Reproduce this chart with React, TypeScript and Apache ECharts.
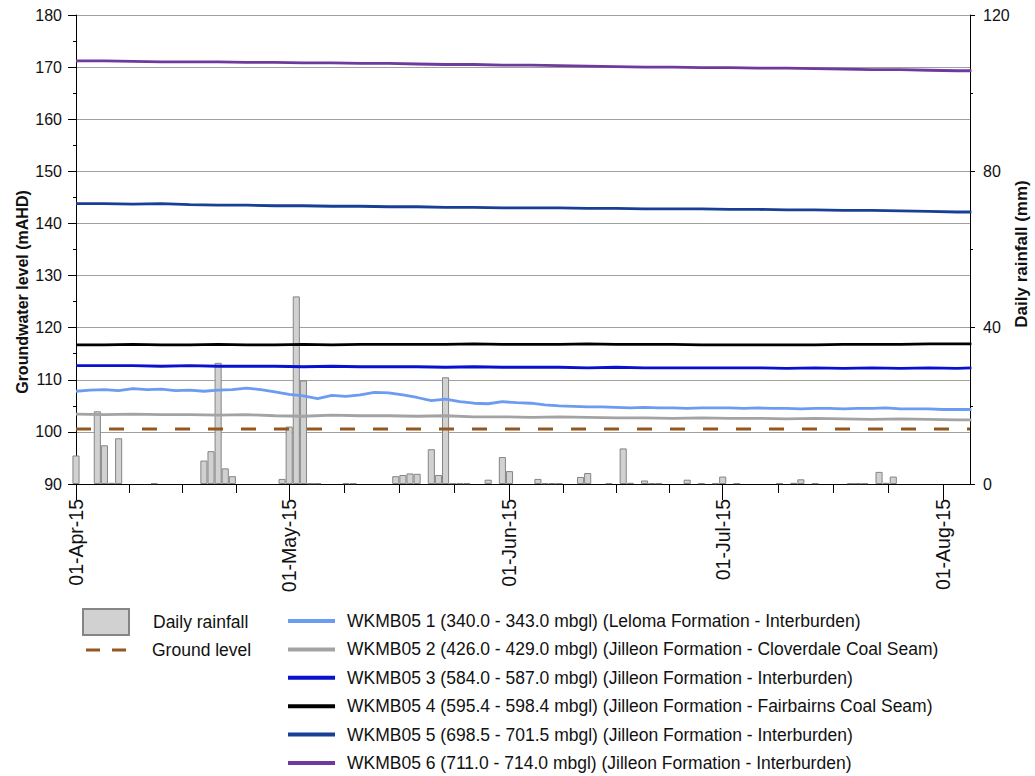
import React, { useEffect, useRef } from 'react';
import * as echarts from 'echarts';

const FONT = '"Liberation Sans", Arial, Helvetica, sans-serif';

// x values are days since 01-Apr-15
const xMin = 0;
const xMax = 125.8;
const monthTickDays = [0, 30, 61, 91, 122];
const monthTickLabels = ['01-Apr-15', '01-May-15', '01-Jun-15', '01-Jul-15', '01-Aug-15'];
const minorTickDays = [0, 7.5, 15, 22.5, 30, 37.75, 45.5, 53.25, 61, 68.5, 76, 83.5, 91, 98.75, 106.5, 114.25, 122];

// Daily rainfall (mm)
const rainDays = [0, 3, 4, 5, 6, 11, 18, 19, 20, 21, 22, 29, 30, 31, 32, 33, 34, 38, 39, 45, 46, 47, 48, 50, 51, 52, 53, 54, 55, 58, 60, 61, 65, 66, 67, 68, 71, 72, 75, 77, 78, 80, 81, 82, 86, 88, 90, 91, 93, 99, 101, 102, 104, 109, 110, 111, 113, 114, 115];
const rainMm = [7.3, 18.6, 9.9, 0.3, 11.7, 0.2, 6.0, 8.4, 31.0, 4.0, 2.0, 1.3, 14.7, 48.0, 26.5, 0.2, 0.2, 0.2, 0.2, 2.0, 2.3, 2.7, 2.6, 8.9, 2.3, 27.3, 0.2, 0.2, 0.2, 1.1, 6.9, 3.3, 1.3, 0.2, 0.2, 0.2, 1.8, 2.8, 0.2, 9.1, 0.3, 0.9, 0.2, 0.2, 1.1, 0.2, 0.2, 1.9, 0.2, 0.2, 0.3, 1.2, 0.2, 0.2, 0.2, 0.2, 3.1, 0.3, 1.9];

// Groundwater levels (mAHD)
const days2 = [0, 2, 4, 6, 8, 10, 12, 14, 16, 18, 20, 22, 24, 26, 28, 30, 32, 34, 36, 38, 40, 42, 44, 46, 48, 50, 52, 54, 56, 58, 60, 62, 64, 66, 68, 70, 72, 74, 76, 78, 80, 82, 84, 86, 88, 90, 92, 94, 96, 98, 100, 102, 104, 106, 108, 110, 112, 114, 116, 118, 120, 122, 124, 126];
const well1 = [107.8, 108.0, 108.1, 107.9, 108.3, 108.1, 108.2, 107.9, 108.0, 107.8, 108.0, 108.1, 108.4, 108.1, 107.7, 107.2, 106.9, 106.4, 107.0, 106.8, 107.1, 107.6, 107.5, 107.1, 106.6, 106.0, 106.3, 105.8, 105.5, 105.4, 105.8, 105.6, 105.5, 105.2, 105.0, 104.9, 104.8, 104.8, 104.7, 104.6, 104.7, 104.6, 104.6, 104.5, 104.6, 104.6, 104.6, 104.5, 104.6, 104.5, 104.5, 104.4, 104.5, 104.5, 104.4, 104.5, 104.5, 104.6, 104.4, 104.4, 104.4, 104.3, 104.3, 104.3];

const days4 = [0, 4, 8, 12, 16, 20, 24, 28, 32, 36, 40, 44, 48, 52, 56, 60, 64, 68, 72, 76, 80, 84, 88, 92, 96, 100, 104, 108, 112, 116, 120, 124, 126];
const well2 = [103.4, 103.3, 103.4, 103.3, 103.3, 103.2, 103.3, 103.1, 103.0, 103.2, 103.1, 103.1, 103.0, 103.1, 102.9, 102.9, 102.8, 102.9, 102.8, 102.7, 102.7, 102.6, 102.7, 102.6, 102.6, 102.5, 102.6, 102.5, 102.4, 102.5, 102.4, 102.3, 102.3];
const well3 = [112.7, 112.7, 112.7, 112.6, 112.7, 112.6, 112.6, 112.6, 112.5, 112.6, 112.5, 112.5, 112.5, 112.4, 112.5, 112.4, 112.4, 112.4, 112.3, 112.4, 112.3, 112.3, 112.3, 112.3, 112.3, 112.2, 112.3, 112.2, 112.3, 112.2, 112.3, 112.2, 112.3];
const well4 = [116.7, 116.7, 116.8, 116.7, 116.7, 116.8, 116.7, 116.7, 116.8, 116.7, 116.8, 116.8, 116.8, 116.8, 116.9, 116.8, 116.8, 116.8, 116.9, 116.8, 116.8, 116.8, 116.7, 116.7, 116.7, 116.7, 116.7, 116.8, 116.8, 116.8, 116.9, 116.9, 116.9];
const well5 = [143.8, 143.8, 143.7, 143.8, 143.6, 143.5, 143.5, 143.4, 143.4, 143.3, 143.3, 143.2, 143.2, 143.1, 143.1, 143.0, 143.0, 143.0, 142.9, 142.9, 142.8, 142.8, 142.8, 142.7, 142.7, 142.6, 142.6, 142.5, 142.5, 142.4, 142.3, 142.2, 142.2];
const well6 = [171.2, 171.2, 171.1, 171.0, 171.0, 171.0, 170.9, 170.9, 170.8, 170.8, 170.7, 170.7, 170.6, 170.5, 170.5, 170.4, 170.4, 170.3, 170.2, 170.1, 170.0, 170.0, 169.9, 169.9, 169.8, 169.8, 169.7, 169.6, 169.5, 169.5, 169.4, 169.3, 169.3];

const groundDays = [0, 125.8];
const groundLevel = [100.55, 100.55];

const leftTitle = 'Groundwater level (mAHD)';
const rightTitle = 'Daily rainfall (mm)';
const wellNames = [
  'WKMB05 1 (340.0 - 343.0 mbgl) (Leloma Formation - Interburden)',
  'WKMB05 2 (426.0 - 429.0 mbgl) (Jilleon Formation - Cloverdale Coal Seam)',
  'WKMB05 3 (584.0 - 587.0 mbgl) (Jilleon Formation - Interburden)',
  'WKMB05 4 (595.4 - 598.4 mbgl) (Jilleon Formation - Fairbairns Coal Seam)',
  'WKMB05 5 (698.5 - 701.5 mbgl) (Jilleon Formation - Interburden)',
  'WKMB05 6 (711.0 - 714.0 mbgl) (Jilleon Formation - Interburden)',
];
const wellColors = ['#6b9cf2', '#a3a3a3', '#0a10cf', '#000000', '#173f96', '#6f3a9e'];
const wellDays = [days2, days4, days4, days4, days4, days4];
const wellValues = [well1, well2, well3, well4, well5, well6];

const zip = (xs: number[], ys: number[]) => xs.map((x, i) => [x, ys[i]]);

export default function App() {
  const ref = useRef<HTMLDivElement>(null);
  useEffect(() => {
    if (!ref.current) return;
    const chart = echarts.init(ref.current, undefined, { renderer: 'svg' });
    const textColor = '#111';
    const legendText = { fontSize: 17.5, color: textColor, fontFamily: FONT, lineHeight: 20 };
    const wellSeries = wellNames.map((name, i) => ({
      name,
      type: 'line',
      xAxisIndex: 0,
      yAxisIndex: 0,
      data: zip(wellDays[i], wellValues[i]),
      symbol: 'none',
      showSymbol: false,
      lineStyle: { color: wellColors[i], width: 2.8 },
      itemStyle: { color: wellColors[i] },
      z: 3,
    }));
    chart.setOption({
      animation: false,
      backgroundColor: '#fff',
      textStyle: { fontFamily: FONT },
      grid: { left: 76, right: 65, top: 15, bottom: 292, containLabel: false, outerBoundsMode: 'none' },
      graphic: [
        {
          type: 'text',
          x: 22,
          y: 292,
          rotation: Math.PI / 2,
          style: { text: leftTitle, font: `bold 16px ${FONT}`, fill: textColor, align: 'center', verticalAlign: 'middle' },
        },
        {
          type: 'text',
          x: 1021,
          y: 254,
          rotation: Math.PI / 2,
          style: { text: rightTitle, font: `bold 17px ${FONT}`, fill: textColor, align: 'center', verticalAlign: 'middle' },
        },
      ],
      xAxis: [
        {
          type: 'value',
          min: xMin,
          max: xMax,
          position: 'bottom',
          axisLine: { show: true, onZero: false, lineStyle: { color: '#000', width: 1 } },
          axisTick: { show: true, customValues: monthTickDays, length: 16, lineStyle: { color: '#000' } },
          axisLabel: {
            customValues: monthTickDays,
            rotate: 90,
            margin: 15,
            fontSize: 19.5,
            color: textColor,
            fontFamily: FONT,
            formatter: (v: number) => {
              const idx = monthTickDays.indexOf(Math.round(v));
              return idx >= 0 ? monthTickLabels[idx] : '';
            },
          },
          splitLine: { show: false },
        },
        {
          type: 'value',
          min: xMin,
          max: xMax,
          position: 'bottom',
          axisLine: { show: false, onZero: false },
          axisTick: { show: true, customValues: minorTickDays, length: 9, lineStyle: { color: '#000' } },
          axisLabel: { show: false },
          splitLine: { show: false },
        },
      ],
      yAxis: [
        {
          type: 'value',
          min: 90,
          max: 180,
          interval: 10,
          position: 'left',
          axisLine: { show: true, onZero: false, lineStyle: { color: '#000', width: 1 } },
          axisTick: { show: true, length: 8, lineStyle: { color: '#000' } },
          minorTick: { show: true, splitNumber: 2, length: 3, lineStyle: { color: '#000' } },
          axisLabel: { fontSize: 16, margin: 14, color: textColor, fontFamily: FONT },
          splitLine: { show: true, lineStyle: { color: '#a0a0a0', width: 1 } },
        },
        {
          type: 'value',
          min: 0,
          max: 120,
          interval: 40,
          position: 'right',
          axisLine: { show: true, onZero: false, lineStyle: { color: '#000', width: 1 } },
          axisTick: { show: true, length: 5, lineStyle: { color: '#000' } },
          minorTick: { show: true, splitNumber: 2, length: 3, lineStyle: { color: '#000' } },
          axisLabel: { fontSize: 16, margin: 13, color: textColor, fontFamily: FONT },
          splitLine: { show: false },
        },
      ],
      legend: [
        {
          data: [{ name: 'Daily rainfall', icon: 'rect' }],
          left: 82,
          top: 608,
          padding: 0,
          orient: 'vertical',
          itemWidth: 46,
          itemHeight: 26,
          selectedMode: false,
          textStyle: { ...legendText, padding: [0, 0, 0, 19] },
        },
        {
          data: [{ name: 'Ground level', icon: 'path://M0,0h14v3h-14zM26,0h14v3h-14z' }],
          left: 86,
          top: 640,
          padding: 0,
          orient: 'vertical',
          itemWidth: 40,
          itemHeight: 3,
          selectedMode: false,
          textStyle: { ...legendText, padding: [0, 0, 0, 21] },
        },
        {
          data: wellNames.map((n) => ({ name: n, icon: 'rect' })),
          left: 288,
          top: 611,
          padding: 0,
          height: 170,
          orient: 'vertical',
          itemWidth: 47,
          itemHeight: 4,
          itemGap: 8.4,
          selectedMode: false,
          textStyle: { ...legendText, padding: [0, 0, 0, 7] },
        },
      ],
      series: [
        {
          name: 'Daily rainfall',
          type: 'bar',
          xAxisIndex: 0,
          yAxisIndex: 1,
          data: zip(rainDays, rainMm),
          barWidth: 7.1,
          clip: false,
          itemStyle: { color: '#d1d1d1', borderColor: '#858585', borderWidth: 1 },
          z: 2,
        },
        {
          name: 'Ground level',
          type: 'line',
          xAxisIndex: 0,
          yAxisIndex: 0,
          data: zip(groundDays, groundLevel),
          symbol: 'none',
          showSymbol: false,
          lineStyle: { color: '#94571f', width: 3, type: [15, 18] },
          itemStyle: { color: '#94571f' },
          z: 3,
        },
        ...wellSeries,
      ],
    });
    return () => chart.dispose();
  }, []);
  return (
    <div
      ref={ref}
      style={{ position: 'absolute', left: 0, top: 0, width: 1035, height: 776, background: '#fff' }}
    />
  );
}
